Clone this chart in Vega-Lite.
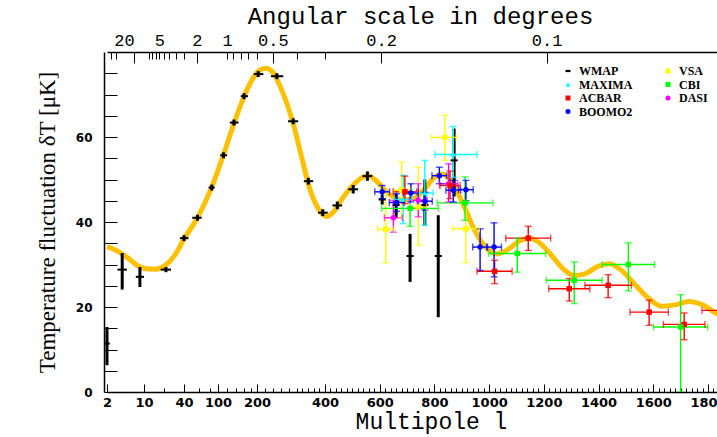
{
  "$schema": "https://vega.github.io/schema/vega-lite/v6.json",
  "width": 613,
  "height": 340,
  "autosize": {"type": "none"},
  "padding": {"left": 104, "top": 52, "right": 0, "bottom": 45},
  "background": "white",
  "config": {"view": {"stroke": null}},
  "resolve": {"axis": {"x": "independent", "y": "independent"}, "legend": {"color": "independent", "shape": "independent"}},
  "datasets": {
    "curve": [
      {"l": 2, "dT": 34.2}, {"l": 3, "dT": 33.3}, {"l": 5, "dT": 31.5}, {"l": 8, "dT": 29.6},
      {"l": 11, "dT": 29.0}, {"l": 15, "dT": 28.9}, {"l": 22, "dT": 30.0}, {"l": 30, "dT": 32.5},
      {"l": 40, "dT": 36.0}, {"l": 58, "dT": 41.0}, {"l": 85, "dT": 48.2}, {"l": 112, "dT": 55.8},
      {"l": 135, "dT": 63.2}, {"l": 160, "dT": 69.5}, {"l": 185, "dT": 73.5}, {"l": 205, "dT": 75.6},
      {"l": 222, "dT": 76.2}, {"l": 240, "dT": 75.2}, {"l": 260, "dT": 71.5}, {"l": 290, "dT": 63.5},
      {"l": 320, "dT": 54.5}, {"l": 345, "dT": 48.0}, {"l": 375, "dT": 43.3}, {"l": 405, "dT": 41.3},
      {"l": 430, "dT": 42.3}, {"l": 460, "dT": 45.2}, {"l": 500, "dT": 48.5}, {"l": 540, "dT": 50.6},
      {"l": 560, "dT": 50.9}, {"l": 590, "dT": 49.5}, {"l": 630, "dT": 46.8}, {"l": 680, "dT": 45.2},
      {"l": 720, "dT": 45.4}, {"l": 760, "dT": 47.5}, {"l": 800, "dT": 50.5}, {"l": 825, "dT": 51.3},
      {"l": 850, "dT": 50.5}, {"l": 880, "dT": 47.5}, {"l": 910, "dT": 43.5}, {"l": 940, "dT": 39.0},
      {"l": 970, "dT": 35.5}, {"l": 1000, "dT": 33.3}, {"l": 1030, "dT": 32.5}, {"l": 1070, "dT": 33.6},
      {"l": 1110, "dT": 35.5}, {"l": 1145, "dT": 36.2}, {"l": 1180, "dT": 35.3}, {"l": 1230, "dT": 32.0},
      {"l": 1270, "dT": 29.0}, {"l": 1310, "dT": 27.4}, {"l": 1350, "dT": 27.8}, {"l": 1400, "dT": 29.6},
      {"l": 1440, "dT": 30.2}, {"l": 1480, "dT": 28.8}, {"l": 1530, "dT": 25.5}, {"l": 1580, "dT": 22.2},
      {"l": 1630, "dT": 20.2}, {"l": 1680, "dT": 20.5}, {"l": 1730, "dT": 21.3}, {"l": 1780, "dT": 20.5},
      {"l": 1833, "dT": 18.4}, {"l": 1900, "dT": 16.5}
    ],
    "pts": [
      {"exp": "WMAP", "l": 2, "dT": 11.4, "lo": 6.3, "hi": 15.3, "lmin": 1.8, "lmax": 2.3},
      {"exp": "WMAP", "l": 4, "dT": 28.8, "lo": 24.1, "hi": 32.7, "lmin": 3.2, "lmax": 4.8},
      {"exp": "WMAP", "l": 8.5, "dT": 27.1, "lo": 24.7, "hi": 29.4, "lmin": 7, "lmax": 10},
      {"exp": "WMAP", "l": 21.7, "dT": 28.8, "lo": 28.2, "hi": 29.4, "lmin": 18, "lmax": 26},
      {"exp": "WMAP", "l": 40, "dT": 36.2, "lo": 35.5, "hi": 36.9, "lmin": 35, "lmax": 46},
      {"exp": "WMAP", "l": 58, "dT": 41.0, "lo": 40.3, "hi": 41.7, "lmin": 51, "lmax": 65},
      {"exp": "WMAP", "l": 85, "dT": 48.1, "lo": 47.4, "hi": 48.8, "lmin": 78, "lmax": 92},
      {"exp": "WMAP", "l": 112, "dT": 55.7, "lo": 55.0, "hi": 56.4, "lmin": 105, "lmax": 120},
      {"exp": "WMAP", "l": 135, "dT": 63.4, "lo": 62.7, "hi": 64.1, "lmin": 126, "lmax": 145},
      {"exp": "WMAP", "l": 160, "dT": 69.6, "lo": 68.9, "hi": 70.3, "lmin": 150, "lmax": 172},
      {"exp": "WMAP", "l": 203, "dT": 74.8, "lo": 74.1, "hi": 75.5, "lmin": 190, "lmax": 216},
      {"exp": "WMAP", "l": 250, "dT": 74.3, "lo": 73.6, "hi": 75.0, "lmin": 235, "lmax": 266},
      {"exp": "WMAP", "l": 291, "dT": 63.7, "lo": 63.0, "hi": 64.4, "lmin": 278, "lmax": 305},
      {"exp": "WMAP", "l": 341, "dT": 49.6, "lo": 48.8, "hi": 50.4, "lmin": 325, "lmax": 358},
      {"exp": "WMAP", "l": 392, "dT": 42.2, "lo": 41.4, "hi": 43.0, "lmin": 375, "lmax": 410},
      {"exp": "WMAP", "l": 445, "dT": 43.9, "lo": 43.0, "hi": 44.8, "lmin": 427, "lmax": 463},
      {"exp": "WMAP", "l": 503, "dT": 47.7, "lo": 46.7, "hi": 48.7, "lmin": 485, "lmax": 521},
      {"exp": "WMAP", "l": 555, "dT": 50.8, "lo": 49.7, "hi": 51.9, "lmin": 537, "lmax": 573},
      {"exp": "WMAP", "l": 609, "dT": 45.3, "lo": 44.1, "hi": 46.5, "lmin": 596, "lmax": 622},
      {"exp": "WMAP", "l": 660, "dT": 44.0, "lo": 41.2, "hi": 46.7, "lmin": 647, "lmax": 673},
      {"exp": "WMAP", "l": 711, "dT": 32.0, "lo": 25.9, "hi": 37.2, "lmin": 698, "lmax": 724},
      {"exp": "WMAP", "l": 765, "dT": 44.0, "lo": 39.2, "hi": 50.0, "lmin": 752, "lmax": 778},
      {"exp": "WMAP", "l": 814, "dT": 32.0, "lo": 17.6, "hi": 41.6, "lmin": 801, "lmax": 827},
      {"exp": "WMAP", "l": 872, "dT": 54.5, "lo": 46.0, "hi": 62.0, "lmin": 859, "lmax": 885},
      {"exp": "MAXIMA", "l": 686, "dT": 45.3, "lo": 39.6, "hi": 51.0, "lmin": 655, "lmax": 717},
      {"exp": "MAXIMA", "l": 765, "dT": 46.8, "lo": 39.2, "hi": 54.5, "lmin": 735, "lmax": 795},
      {"exp": "MAXIMA", "l": 869, "dT": 55.9, "lo": 50.5, "hi": 62.5, "lmin": 802, "lmax": 956},
      {"exp": "VSA", "l": 622, "dT": 38.3, "lo": 30.4, "hi": 46.7, "lmin": 592, "lmax": 652},
      {"exp": "VSA", "l": 680, "dT": 47.5, "lo": 41.0, "hi": 54.1, "lmin": 650, "lmax": 710},
      {"exp": "VSA", "l": 741, "dT": 43.5, "lo": 34.5, "hi": 52.9, "lmin": 711, "lmax": 771},
      {"exp": "VSA", "l": 838, "dT": 59.9, "lo": 54.5, "hi": 65.1, "lmin": 790, "lmax": 880},
      {"exp": "VSA", "l": 915, "dT": 38.4, "lo": 30.4, "hi": 45.1, "lmin": 866, "lmax": 964},
      {"exp": "DASI", "l": 650, "dT": 41.0, "lo": 37.6, "hi": 45.1, "lmin": 617, "lmax": 683},
      {"exp": "DASI", "l": 741, "dT": 45.1, "lo": 41.2, "hi": 49.0, "lmin": 708, "lmax": 774},
      {"exp": "DASI", "l": 852, "dT": 49.0, "lo": 44.7, "hi": 53.7, "lmin": 819, "lmax": 885},
      {"exp": "ACBAR", "l": 692, "dT": 47.1, "lo": 44.3, "hi": 50.8, "lmin": 649, "lmax": 735},
      {"exp": "ACBAR", "l": 857, "dT": 48.6, "lo": 45.5, "hi": 52.0, "lmin": 820, "lmax": 894},
      {"exp": "ACBAR", "l": 1020, "dT": 28.4, "lo": 25.5, "hi": 31.0, "lmin": 956, "lmax": 1084},
      {"exp": "ACBAR", "l": 1143, "dT": 36.2, "lo": 33.3, "hi": 39.0, "lmin": 1061, "lmax": 1225},
      {"exp": "ACBAR", "l": 1293, "dT": 24.3, "lo": 21.4, "hi": 26.7, "lmin": 1218, "lmax": 1368},
      {"exp": "ACBAR", "l": 1435, "dT": 25.1, "lo": 22.2, "hi": 27.6, "lmin": 1350, "lmax": 1520},
      {"exp": "ACBAR", "l": 1585, "dT": 18.8, "lo": 15.7, "hi": 21.6, "lmin": 1515, "lmax": 1655},
      {"exp": "ACBAR", "l": 1713, "dT": 15.9, "lo": 12.3, "hi": 18.6, "lmin": 1637, "lmax": 1789},
      {"exp": "ACBAR", "l": 1850, "dT": 19.2, "lo": 17.0, "hi": 21.5, "lmin": 1778, "lmax": 1922},
      {"exp": "CBI", "l": 711, "dT": 43.2, "lo": 39.0, "hi": 46.7, "lmin": 607, "lmax": 815},
      {"exp": "CBI", "l": 912, "dT": 44.5, "lo": 40.4, "hi": 50.6, "lmin": 810, "lmax": 1014},
      {"exp": "CBI", "l": 1103, "dT": 32.6, "lo": 28.2, "hi": 36.2, "lmin": 999, "lmax": 1207},
      {"exp": "CBI", "l": 1311, "dT": 26.3, "lo": 20.8, "hi": 30.6, "lmin": 1209, "lmax": 1413},
      {"exp": "CBI", "l": 1509, "dT": 30.0, "lo": 23.8, "hi": 35.1, "lmin": 1413, "lmax": 1605},
      {"exp": "CBI", "l": 1700, "dT": 15.3, "lo": 0, "hi": 22.9, "lmin": 1601, "lmax": 1799},
      {"exp": "BOOMO2", "l": 609, "dT": 47.1, "lo": 45.5, "hi": 48.6, "lmin": 582, "lmax": 636},
      {"exp": "BOOMO2", "l": 662, "dT": 44.6, "lo": 42.5, "hi": 46.7, "lmin": 635, "lmax": 689},
      {"exp": "BOOMO2", "l": 714, "dT": 46.8, "lo": 44.7, "hi": 49.0, "lmin": 687, "lmax": 741},
      {"exp": "BOOMO2", "l": 765, "dT": 44.9, "lo": 42.8, "hi": 47.0, "lmin": 738, "lmax": 792},
      {"exp": "BOOMO2", "l": 818, "dT": 50.9, "lo": 49.0, "hi": 52.9, "lmin": 791, "lmax": 845},
      {"exp": "BOOMO2", "l": 869, "dT": 47.5, "lo": 44.7, "hi": 49.8, "lmin": 842, "lmax": 896},
      {"exp": "BOOMO2", "l": 915, "dT": 47.6, "lo": 45.0, "hi": 49.8, "lmin": 888, "lmax": 942},
      {"exp": "BOOMO2", "l": 967, "dT": 34.1, "lo": 28.6, "hi": 38.4, "lmin": 940, "lmax": 994},
      {"exp": "BOOMO2", "l": 1018, "dT": 34.1, "lo": 27.1, "hi": 39.8, "lmin": 991, "lmax": 1045}
    ]
  },
  "layer": [
    {
      "data": {"name": "curve"},
      "mark": {"type": "line", "color": "#FFC000", "strokeWidth": 5, "interpolate": "monotone", "clip": true},
      "encoding": {
        "x": {
          "field": "l", "type": "quantitative",
          "scale": {"type": "linear", "domain": [2, 3, 5, 7, 10, 15, 20, 30, 40, 60, 80, 100, 150, 200, 300, 400, 1833], "range": [3, 12.3, 24.1, 31.8, 40, 51.7, 60, 71.7, 80, 95, 105.7, 114, 136.8, 153, 192.8, 221, 613], "nice": false, "zero": false},
          "axis": {
            "orient": "bottom",
            "values": [2, 10, 20, 40, 60, 80, 100, 120, 140, 160, 180, 200, 220, 240, 260, 280, 300, 320, 340, 360, 380, 400, 420, 440, 460, 480, 500, 520, 540, 560, 580, 600, 620, 640, 660, 680, 700, 720, 740, 760, 780, 800, 820, 840, 860, 880, 900, 920, 940, 960, 980, 1000, 1020, 1040, 1060, 1080, 1100, 1120, 1140, 1160, 1180, 1200, 1220, 1240, 1260, 1280, 1300, 1320, 1340, 1360, 1380, 1400, 1420, 1440, 1460, 1480, 1500, 1520, 1540, 1560, 1580, 1600, 1620, 1640, 1660, 1680, 1700, 1720, 1740, 1760, 1780, 1800, 1820],
            "format": "d",
            "labelExpr": "indexof([2,10,40,100,200,400,600,800,1000,1200,1400,1600,1800], datum.value) >= 0 ? datum.label : ''",
            "tickSize": {"condition": {"test": "indexof([2,10,40,100,200,400,600,800,1000,1200,1400,1600,1800], datum.value) >= 0", "value": -8}, "value": -4},
            "tickColor": "black", "tickWidth": 1,
            "domainColor": "black", "domainWidth": 1.5,
            "labelFont": "DejaVu Sans", "labelFontWeight": "bold", "labelFontSize": 13, "labelColor": "black",
            "labelPadding": 12, "labelFlush": false, "labelOverlap": false, "grid": false,
            "title": "Multipole l", "titleFont": "Liberation Mono", "titleFontSize": 23, "titleFontWeight": "normal", "titleColor": "black", "titlePadding": -3, "titleX": 327
          }
        },
        "y": {
          "field": "dT", "type": "quantitative",
          "scale": {"domain": [0, 80], "nice": false},
          "axis": {
            "orient": "left",
            "values": [0, 5, 10, 15, 20, 25, 30, 35, 40, 45, 50, 55, 60, 65, 70, 75],
            "labelExpr": "datum.value % 20 == 0 ? datum.label : ''",
            "tickSize": -13, "tickColor": "black", "tickWidth": 1,
            "domainColor": "black", "domainWidth": 1.5,
            "labelFont": "DejaVu Sans", "labelFontWeight": "bold", "labelFontSize": 12, "labelColor": "black",
            "labelPadding": 25, "labelOverlap": false, "grid": false,
            "title": "Temperature fluctuation δT  [μK]", "titleFont": "Liberation Serif", "titleFontSize": 23, "titleFontWeight": "normal", "titleColor": "black", "titlePadding": 16
          }
        }
      }
    },
    {
      "data": {"name": "pts"},
      "mark": {"type": "rule", "clip": true},
      "encoding": {
        "x": {
          "field": "l", "type": "quantitative",
          "scale": {"type": "linear", "domain": [2, 3, 5, 7, 10, 15, 20, 30, 40, 60, 80, 100, 150, 200, 300, 400, 1833], "range": [3, 12.3, 24.1, 31.8, 40, 51.7, 60, 71.7, 80, 95, 105.7, 114, 136.8, 153, 192.8, 221, 613], "nice": false, "zero": false},
          "axis": {
            "orient": "top",
            "values": [2.4, 3, 4.3, 6.5, 12, 13.33, 15, 17.14, 20, 24, 30, 40, 57, 120, 133.3, 150, 171.4, 200, 240, 300, 400, 605, 1210],
            "labelExpr": "datum.value == 4.3 ? '20' : datum.value == 17.14 ? '5' : datum.value == 57 ? '2' : datum.value == 120 ? '1' : datum.value == 240 ? '0.5' : datum.value == 605 ? '0.2' : datum.value == 1210 ? '0.1' : ''",
            "tickSize": {"condition": [{"test": "indexof([6.5,57,240,605,1210], datum.value) >= 0", "value": -11}, {"test": "datum.value == 4.3", "value": 0}], "value": -7},
            "labelPadding": {"condition": [{"test": "indexof([6.5,57,240,605,1210], datum.value) >= 0", "value": 14}, {"test": "datum.value == 4.3", "value": 3}], "value": 10},
            "tickColor": "black", "tickWidth": 1,
            "domainColor": "black", "domainWidth": 1.5,
            "labelFont": "Liberation Mono", "labelFontSize": 17, "labelColor": "black",
            "labelFlush": false, "labelOverlap": false, "grid": false,
            "title": "Angular scale in degrees", "titleFont": "Liberation Mono", "titleFontSize": 24, "titleFontWeight": "normal", "titleColor": "black", "titlePadding": 3, "titleX": 316
          }
        },
        "y": {"field": "lo", "type": "quantitative", "scale": {"domain": [0, 80], "nice": false}, "axis": null},
        "y2": {"field": "hi"},
        "color": {"field": "exp", "type": "nominal", "legend": null,
          "scale": {"domain": ["WMAP", "MAXIMA", "ACBAR", "BOOMO2", "VSA", "CBI", "DASI"], "range": ["#000000", "#00FFFF", "#FF0000", "#0000FF", "#FFFF00", "#00FF00", "#FF00FF"]}},
        "strokeWidth": {"condition": {"test": "datum.exp === 'WMAP'", "value": 3}, "value": 1.4}
      }
    },
    {
      "data": {"name": "pts"},
      "mark": {"type": "rule", "clip": true},
      "encoding": {
        "x": {"field": "lmin", "type": "quantitative",
          "scale": {"type": "linear", "domain": [2, 3, 5, 7, 10, 15, 20, 30, 40, 60, 80, 100, 150, 200, 300, 400, 1833], "range": [3, 12.3, 24.1, 31.8, 40, 51.7, 60, 71.7, 80, 95, 105.7, 114, 136.8, 153, 192.8, 221, 613], "nice": false, "zero": false},
          "axis": null},
        "x2": {"field": "lmax"},
        "y": {"field": "dT", "type": "quantitative", "scale": {"domain": [0, 80], "nice": false}, "axis": null},
        "color": {"field": "exp", "type": "nominal", "legend": null,
          "scale": {"domain": ["WMAP", "MAXIMA", "ACBAR", "BOOMO2", "VSA", "CBI", "DASI"], "range": ["#000000", "#00FFFF", "#FF0000", "#0000FF", "#FFFF00", "#00FF00", "#FF00FF"]}},
        "strokeWidth": {"condition": {"test": "datum.exp === 'WMAP'", "value": 2}, "value": 1.4}
      }
    },
    {
      "data": {"name": "pts"},
      "transform": [{"filter": "datum.exp !== 'WMAP'"}, {"fold": ["lo", "hi"], "as": ["end", "yv"]}],
      "mark": {"type": "tick", "orient": "horizontal", "size": 7, "thickness": 1.4, "clip": true},
      "encoding": {
        "x": {"field": "l", "type": "quantitative",
          "scale": {"type": "linear", "domain": [2, 3, 5, 7, 10, 15, 20, 30, 40, 60, 80, 100, 150, 200, 300, 400, 1833], "range": [3, 12.3, 24.1, 31.8, 40, 51.7, 60, 71.7, 80, 95, 105.7, 114, 136.8, 153, 192.8, 221, 613], "nice": false, "zero": false},
          "axis": null},
        "y": {"field": "yv", "type": "quantitative", "scale": {"domain": [0, 80], "nice": false}, "axis": null},
        "color": {"field": "exp", "type": "nominal", "legend": null,
          "scale": {"domain": ["WMAP", "MAXIMA", "ACBAR", "BOOMO2", "VSA", "CBI", "DASI"], "range": ["#000000", "#00FFFF", "#FF0000", "#0000FF", "#FFFF00", "#00FF00", "#FF00FF"]}}
      }
    },
    {
      "data": {"name": "pts"},
      "transform": [{"filter": "datum.exp !== 'WMAP'"}, {"fold": ["lmin", "lmax"], "as": ["end", "xv"]}],
      "mark": {"type": "tick", "orient": "vertical", "size": 7, "thickness": 1.4, "clip": true},
      "encoding": {
        "x": {"field": "xv", "type": "quantitative",
          "scale": {"type": "linear", "domain": [2, 3, 5, 7, 10, 15, 20, 30, 40, 60, 80, 100, 150, 200, 300, 400, 1833], "range": [3, 12.3, 24.1, 31.8, 40, 51.7, 60, 71.7, 80, 95, 105.7, 114, 136.8, 153, 192.8, 221, 613], "nice": false, "zero": false},
          "axis": null},
        "y": {"field": "dT", "type": "quantitative", "scale": {"domain": [0, 80], "nice": false}, "axis": null},
        "color": {"field": "exp", "type": "nominal", "legend": null,
          "scale": {"domain": ["WMAP", "MAXIMA", "ACBAR", "BOOMO2", "VSA", "CBI", "DASI"], "range": ["#000000", "#00FFFF", "#FF0000", "#0000FF", "#FFFF00", "#00FF00", "#FF00FF"]}}
      }
    },
    {
      "data": {"name": "pts"},
      "transform": [{"filter": "datum.exp !== 'WMAP'"}],
      "mark": {"type": "point", "filled": true, "size": 30, "opacity": 1, "clip": true},
      "encoding": {
        "x": {"field": "l", "type": "quantitative",
          "scale": {"type": "linear", "domain": [2, 3, 5, 7, 10, 15, 20, 30, 40, 60, 80, 100, 150, 200, 300, 400, 1833], "range": [3, 12.3, 24.1, 31.8, 40, 51.7, 60, 71.7, 80, 95, 105.7, 114, 136.8, 153, 192.8, 221, 613], "nice": false, "zero": false},
          "axis": null},
        "y": {"field": "dT", "type": "quantitative", "scale": {"domain": [0, 80], "nice": false}, "axis": null},
        "color": {"field": "exp", "type": "nominal",
          "scale": {"domain": ["WMAP", "MAXIMA", "ACBAR", "BOOMO2", "VSA", "CBI", "DASI"], "range": ["#000000", "#00FFFF", "#FF0000", "#0000FF", "#FFFF00", "#00FF00", "#FF00FF"]},
          "legend": {
            "title": null, "orient": "none", "legendX": 458, "legendY": 13, "columns": 2, "columnPadding": 29, "rowPadding": 1.5,
            "padding": 0, "symbolSize": 25, "symbolStrokeWidth": 0, "labelOffset": 5,
            "labelFont": "Liberation Serif", "labelFontWeight": "bold", "labelFontSize": 12,
            "encode": {"labels": {"update": {"fill": {"scale": "color", "field": "value"}}}}
          }},
        "shape": {"field": "exp", "type": "nominal",
          "scale": {"domain": ["WMAP", "MAXIMA", "ACBAR", "BOOMO2", "VSA", "CBI", "DASI"], "range": ["M-1,-0.45H1V0.45H-1Z", "triangle-up", "square", "circle", "square", "square", "circle"]},
          "legend": {
            "title": null, "orient": "none", "legendX": 458, "legendY": 13, "columns": 2, "columnPadding": 29, "rowPadding": 1.5,
            "padding": 0, "symbolSize": 25, "symbolStrokeWidth": 0, "labelOffset": 5,
            "labelFont": "Liberation Serif", "labelFontWeight": "bold", "labelFontSize": 12,
            "encode": {"labels": {"update": {"fill": {"scale": "color", "field": "value"}}}}
          }}
      }
    }
  ]
}
